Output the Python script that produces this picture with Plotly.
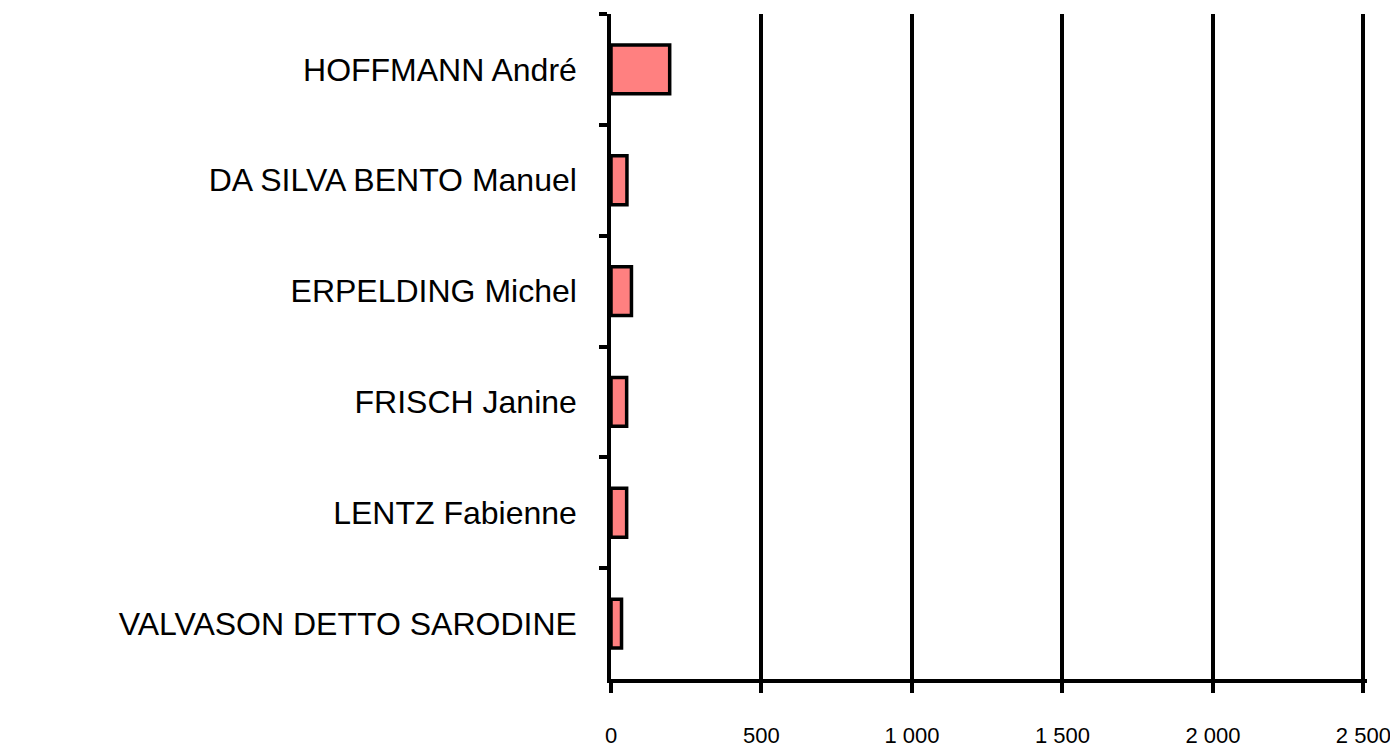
import plotly.graph_objects as go

names = ["HOFFMANN André", "DA SILVA BENTO Manuel", "ERPELDING Michel",
         "FRISCH Janine", "LENTZ Fabienne", "VALVASON DETTO SARODINE"]
values = [195, 53, 68, 52, 52, 35]
x_tickvals = [0, 500, 1000, 1500, 2000, 2500]
x_ticktext = ["0", "500", "1 000", "1 500", "2 000", "2 500"]

fig = go.Figure(go.Bar(
    x=values, y=names, orientation="h",
    marker=dict(color="#FF8080", line=dict(color="black", width=3.5)),
))

fig.update_layout(
    width=1390, height=746,
    paper_bgcolor="white", plot_bgcolor="white",
    margin=dict(l=603, r=31, t=6, b=61),
    bargap=0.56,
    showlegend=False,
    font=dict(family="Liberation Sans, Arial, sans-serif", color="black"),
)
fig.update_xaxes(
    range=[0, 2512], tickvals=x_tickvals, ticktext=x_ticktext,
    showgrid=True, gridcolor="black", gridwidth=3.5,
    zeroline=False, showline=True, linecolor="black", linewidth=3.5,
    ticks="outside", ticklen=10, tickwidth=3.5, tickcolor="black",
    tickfont=dict(size=22), ticklabelstandoff=24,
)
fig.update_yaxes(
    categoryorder="array", categoryarray=names, autorange="reversed",
    showline=True, linecolor="black", linewidth=3.5,
    ticks="outside", ticklen=8, tickwidth=3.5, tickcolor="black",
    tickson="boundaries", showgrid=False,
    tickfont=dict(size=32), ticklabelstandoff=24,
)

fig.write_html("out.html")
